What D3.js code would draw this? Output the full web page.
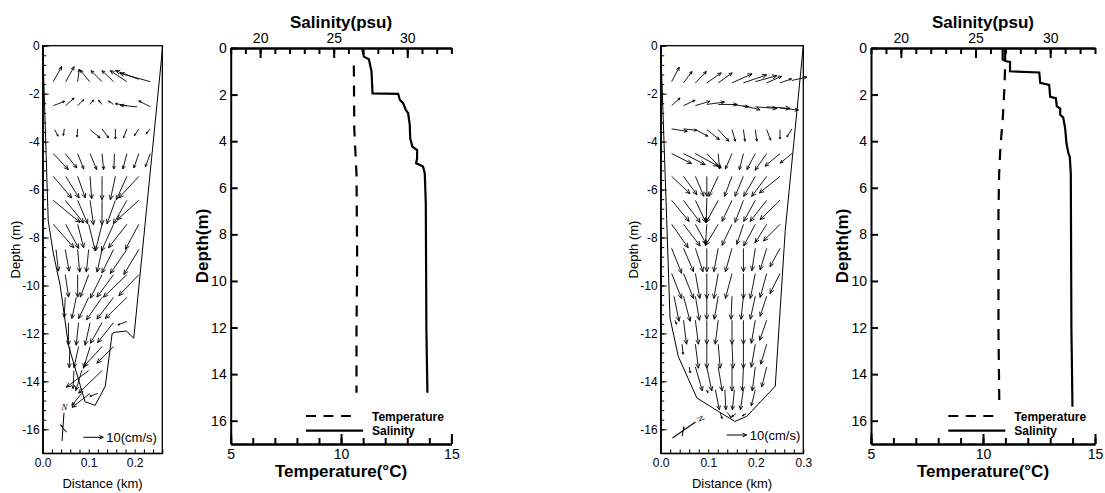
<!DOCTYPE html>
<html>
<head>
<meta charset="utf-8">
<script src="https://cdn.jsdelivr.net/npm/d3@7"></script>
<style>
  body { margin: 0; background: #fff; }
  svg { font-family: "Liberation Sans", Arial, sans-serif; }
</style>
</head>
<body>
<script>
const W = 1105, H = 493;

// ---- cross-section outlines: [distance km, depth m]
const leftSection = [[0,0],[0.012,-7.3],[0.023,-8.65],[0.038,-10.0],[0.056,-12.5],[0.092,-14.85],[0.114,-15.0],[0.136,-14.2],[0.151,-12.0],[0.158,-11.95],[0.182,-11.9],[0.198,-12.2],[0.261,0]];
const rightSection = [[0,0],[0.0126,-7.26],[0.0196,-11.36],[0.037,-12.96],[0.076,-14.69],[0.121,-15.25],[0.156,-15.67],[0.181,-15.46],[0.241,-14.2],[0.262,-7.7],[0.3,0]];

// ---- velocity vectors: [distance km, depth m, u cm/s, v cm/s]
const leftArrows = [
  [0.023,-1.5,4.2,7.5],[0.050,-1.5,4.2,7.5],[0.076,-1.5,0.8,6.2],[0.102,-1.5,-4.7,5.8],[0.129,-1.5,-5.5,5.5],[0.154,-1.5,-5.8,5.5],[0.183,-1.5,-8.3,5.5],[0.209,-1.4,-11.7,4.3],[0.234,-1.5,-15.3,4.2],
  [0.023,-2.5,5.8,2.2],[0.050,-2.5,4.2,3.8],[0.076,-2.5,3,3],[0.102,-2.45,2,2.2],[0.129,-2.45,-1.7,2],[0.154,-2.45,-2.5,1.7],[0.183,-2.5,-5.8,1],[0.205,-2.55,-8.3,0.8],[0.234,-2.55,-5.8,3],
  [0.026,-3.5,1.7,-3.3],[0.047,-3.47,-0.5,-3.3],[0.076,-3.47,-0.3,-4],[0.103,-3.5,5,-4.2],[0.129,-3.47,3.3,-4.5],[0.158,-3.47,0,-5],[0.183,-3.47,-1.7,-4.5],[0.209,-3.47,-2.2,-3.3],[0.234,-3.47,-2,-2.3],
  [0.023,-4.5,7.5,-8],[0.049,-4.5,5.8,-7.2],[0.076,-4.5,3,-7.7],[0.103,-4.5,3.3,-8],[0.129,-4.5,0.8,-8],[0.156,-4.5,-0.3,-7.7],[0.183,-4.5,-2,-7.7],[0.209,-4.5,-2.5,-7.2],[0.234,-4.5,-2.5,-6.7],
  [0.023,-5.45,9.2,-10.8],[0.050,-5.45,6.7,-10.8],[0.076,-5.45,3.8,-10.8],[0.103,-5.45,0.8,-11.3],[0.129,-5.45,0,-11.7],[0.158,-5.45,-2.5,-11.7],[0.183,-5.45,-5.3,-11.7],[0.209,-5.45,-10,-10.8],
  [0.023,-6.45,13.3,-11],[0.049,-6.45,9.2,-11.3],[0.076,-6.45,5,-11.7],[0.103,-6.45,1.7,-12.2],[0.129,-6.45,0,-12.2],[0.158,-6.45,-4.2,-11.7],[0.183,-6.45,-6.7,-11.7],[0.209,-6.45,-10.8,-9.7],
  [0.023,-7.45,10.3,-11.7],[0.050,-7.45,6.5,-12],[0.076,-7.45,3,-11.7],[0.100,-7.45,3.3,-13.3],[0.129,-7.45,-3.3,-13.3],[0.154,-7.45,-6,-13.3],[0.183,-7.45,-9.2,-11.7],[0.209,-7.45,-6.7,-12.5],
  [0.029,-8.5,1.2,-10.8],[0.049,-8.5,2,-10.8],[0.076,-8.5,1,-11.3],[0.100,-8.5,-1.2,-11.3],[0.129,-8.5,-2.5,-11.3],[0.154,-8.5,-5.8,-11.7],[0.183,-8.5,-8.3,-12],[0.209,-8.5,-7.5,-12.5],
  [0.049,-9.55,1.7,-11.2],[0.076,-9.55,0,-11.2],[0.100,-9.55,-4.2,-11.2],[0.129,-9.55,-5.8,-11.7],[0.154,-9.55,-8.3,-11.2],[0.183,-9.55,-11.7,-11.2],[0.209,-9.55,-10,-10.5],
  [0.049,-10.5,-0.5,-10],[0.073,-10.5,-2.2,-10.5],[0.100,-10.5,-5,-10.5],[0.129,-10.5,-7.8,-11.2],[0.154,-10.5,-8.3,-10.8],[0.183,-10.5,-10.8,-10.5],
  [0.056,-11.55,0,-11.3],[0.078,-11.55,-1.2,-11.3],[0.103,-11.55,-2.5,-11.3],[0.129,-11.55,-5.8,-10.3],[0.154,-11.55,-8,-10],[0.183,-11.5,-4.5,-1.7],
  [0.059,-12.55,-0.3,-10.5],[0.078,-12.55,-2.3,-10.5],[0.103,-12.55,-3.3,-10.8],[0.129,-12.55,-9.2,-10],[0.154,-12.55,-8.3,-8.3],
  [0.068,-13.55,-0.5,-9],[0.085,-13.55,-3,-10],[0.100,-13.55,-11.2,-8.3],[0.129,-13.55,-11.7,-11.3],
  [0.085,-14.5,-5,-6],[0.103,-14.5,-9,-7],[0.120,-14.5,-4,-1.5]
];
const rightArrows = [
  [0.023,-1.5,3.8,7.2],[0.048,-1.55,4.2,5.7],[0.073,-1.55,5.5,5.7],[0.097,-1.55,7.2,5],[0.121,-1.55,7,5],[0.150,-1.55,10,4.5],[0.174,-1.55,11.7,4],[0.199,-1.5,10.8,3],[0.223,-1.55,7.5,3.3],[0.251,-1.55,5.8,2],[0.276,-1.45,7.5,1.7],
  [0.023,-2.5,4.2,3.8],[0.048,-2.5,5.8,2.7],[0.073,-2.5,7.2,2.2],[0.097,-2.45,8.8,1.2],[0.121,-2.45,9.5,0],[0.150,-2.45,8.3,-1.2],[0.174,-2.5,8.3,-2],[0.199,-2.55,10.8,-0.8],[0.223,-2.55,11.7,-0.8],[0.251,-2.6,9.2,-1],
  [0.023,-3.47,7.8,-1.2],[0.048,-3.47,6.7,-0.7],[0.073,-3.5,6.3,-3.3],[0.097,-3.5,6.3,-5],[0.121,-3.5,5.3,-5.8],[0.150,-3.5,1.7,-5.8],[0.174,-3.5,0.8,-5.8],[0.199,-3.5,0.8,-5.8],[0.223,-3.5,2,-5.3],[0.251,-3.5,0,-4.7],[0.276,-3.47,-2.5,-4],
  [0.023,-4.5,10,-5],[0.048,-4.5,10.8,-5.5],[0.073,-4.5,11.3,-6.3],[0.097,-4.5,7.2,-7.2],[0.121,-4.5,0.7,-7.7],[0.150,-4.5,-3.3,-7.7],[0.174,-4.5,-2,-8],[0.199,-4.5,-4.2,-8],[0.223,-4.5,-5.8,-8.3],[0.251,-4.5,-7.5,-6.3],[0.276,-4.5,-5.8,-4.7],
  [0.023,-5.45,9.2,-8.7],[0.048,-5.45,6.7,-9.2],[0.073,-5.45,4.2,-10],[0.097,-5.45,0,-10],[0.121,-5.45,-4.7,-10],[0.150,-5.45,-3.8,-10],[0.174,-5.45,-4.2,-10],[0.199,-5.45,-5.8,-10],[0.223,-5.45,-7.5,-10],[0.251,-5.45,-10.3,-8.3],
  [0.023,-6.45,8.8,-10.5],[0.048,-6.45,8.3,-11],[0.073,-6.45,5.2,-11],[0.097,-6.35,-0.3,-12.2],[0.121,-6.45,-6,-11],[0.150,-6.45,-5,-10.5],[0.174,-6.45,-4.2,-11],[0.199,-6.45,-5.8,-10.5],[0.223,-6.45,-8.3,-10.5],[0.251,-6.45,-10,-9.7],
  [0.023,-7.45,8.3,-11.7],[0.048,-7.45,8.3,-10.8],[0.073,-7.45,5.5,-10],[0.097,-7.45,-0.7,-10.5],[0.121,-7.45,-6.3,-10.5],[0.150,-7.45,-5,-10.5],[0.174,-7.45,-3.3,-10],[0.199,-7.45,-5.8,-10.8],[0.223,-7.45,-5.8,-9.2],[0.251,-7.45,-8.3,-8.3],
  [0.023,-8.45,5,-12.5],[0.048,-8.45,5,-11.7],[0.073,-8.45,3.8,-11.7],[0.097,-8.45,0,-11.7],[0.121,-8.45,-2.2,-11.7],[0.150,-8.45,-3.3,-11.7],[0.174,-8.45,0,-11.7],[0.199,-8.45,-1.7,-11.2],[0.223,-8.45,-3.3,-10.8],[0.251,-8.45,-5,-9.2],
  [0.023,-9.5,5,-12.5],[0.048,-9.5,5,-12.5],[0.073,-9.5,2.2,-12.5],[0.097,-9.5,0,-12.5],[0.121,-9.5,-2.2,-12.5],[0.150,-9.5,-3.3,-12.5],[0.174,-9.5,0,-12.5],[0.199,-9.5,-2.5,-12.5],[0.223,-9.5,-3.3,-12],[0.251,-9.5,-5,-10],
  [0.028,-10.45,2.5,-12.5],[0.048,-10.45,3.3,-12.5],[0.073,-10.45,2,-12],[0.097,-10.45,0,-11.5],[0.121,-10.45,-2,-11.5],[0.150,-10.45,-0.5,-11.5],[0.174,-10.45,-1.2,-11.5],[0.199,-10.45,-2.5,-11.5],[0.223,-10.45,-3.3,-10],
  [0.030,-11.45,0.8,-2],[0.048,-11.45,1.5,-12],[0.073,-11.45,1.5,-12],[0.097,-11.45,0,-12],[0.121,-11.45,-1.5,-12],[0.150,-11.45,0,-12],[0.174,-11.45,0,-12],[0.199,-11.45,-2,-11.5],[0.223,-11.45,-3.5,-10],
  [0.045,-12.45,0.5,-5],[0.073,-12.45,1.5,-12],[0.097,-12.45,0,-12],[0.121,-12.45,1,-12],[0.150,-12.45,0.5,-12],[0.174,-12.45,0,-12],[0.199,-12.45,-2,-11.5],[0.223,-12.45,-3,-10],
  [0.060,-13.4,0.5,-3],[0.073,-13.4,3.5,-12],[0.097,-13.4,2.5,-12],[0.121,-13.4,2,-12],[0.150,-13.4,0,-12],[0.174,-13.4,-0.5,-12],[0.199,-13.4,-1.5,-12],[0.223,-13.4,-2.5,-10],
  [0.097,-14.35,0.5,-1.5],[0.115,-14.35,2,-10],[0.135,-14.35,0.5,-10],[0.155,-14.35,-1,-10],[0.174,-14.35,-1.5,-10],[0.199,-14.35,-2,-8],
  [0.125,-15.3,1,-3],[0.140,-15.3,2,-2.5],[0.158,-15.35,-2,-1.5],[0.180,-15.35,-2,-1]
];

// ---- vertical profiles: [depth m, value]
const leftSalinity = [[0,26.93],[0.37,27.05],[0.48,27.39],[1.0,27.57],[1.95,27.64],[1.97,29.38],[2.23,29.5],[2.37,29.72],[2.66,29.9],[2.8,30.06],[3.3,30.17],[3.88,30.2],[4.24,30.35],[4.38,30.67],[4.73,30.67],[4.95,30.6],[5.0,30.8],[5.09,31.07],[5.38,31.19],[6.67,31.26],[12.1,31.3],[14.8,31.37]];
const leftTemperature = [[0.75,10.58],[3.5,10.6],[5.4,10.7],[9.1,10.73],[12.1,10.7],[14.8,10.7]];
const rightSalinity = [[0,26.82],[0.5,26.82],[0.57,27.05],[0.6,27.31],[1.0,27.31],[1.05,29.27],[1.5,29.33],[1.58,29.93],[2.1,30.0],[2.15,30.38],[2.5,30.44],[2.6,30.67],[2.87,30.67],[2.98,30.87],[3.45,31.0],[4.09,31.09],[4.52,31.22],[4.66,31.31],[5.38,31.38],[12.1,31.42],[13.4,31.45],[15.4,31.49]];
const rightTemperature = [[0.05,10.99],[0.65,10.99],[1.65,10.96],[3.08,10.88],[4.2,10.78],[5.4,10.72],[7.1,10.69],[12.1,10.69],[15.4,10.73]];

const depthTicks = [0, 2, 4, 6, 8, 10, 12, 14, 16];
const salinityTicks = [20, 25, 30];
const temperatureTicks = [5, 10, 15];
const sectionDepthTicks = [0, -2, -4, -6, -8, -10, -12, -14, -16];

const svg = d3.select("body").append("svg").attr("width", W).attr("height", H);

// 10 cm/s -> 20 px
const velPx = d3.scaleLinear().domain([0, 10]).range([0, 20]);

function arrowPath(x0, y0, x1, y1) {
  const len = Math.hypot(x1 - x0, y1 - y0);
  const head = Math.max(2, Math.min(5, len * 0.22));
  const a = Math.atan2(y1 - y0, x1 - x0);
  const ax = x1 - head * Math.cos(a - 0.42), ay = y1 - head * Math.sin(a - 0.42);
  const bx = x1 - head * Math.cos(a + 0.42), by = y1 - head * Math.sin(a + 0.42);
  return `M${x0},${y0}L${x1},${y1}M${ax},${ay}L${x1},${y1}L${bx},${by}`;
}

function styleAxis(sel, w) {
  sel.select(".domain").attr("stroke", "#000").attr("stroke-width", w);
  sel.selectAll(".tick line").attr("stroke", "#000").attr("stroke-width", w);
  sel.selectAll("text").attr("fill", "#000");
}

function drawSection(cfg) {
  const g = svg.append("g");
  const x = d3.scaleLinear().domain([0, cfg.xMax]).range([cfg.left, cfg.right]);
  const y = d3.scaleLinear().domain([0, -17]).range([cfg.top, cfg.bottom]);

  g.append("path").datum(cfg.outline)
    .attr("d", d3.line().x(d => x(d[0])).y(d => y(d[1])))
    .attr("fill", "none").attr("stroke", "#000").attr("stroke-width", 1);

  g.selectAll("path.arrow").data(cfg.arrows).join("path")
    .attr("class", "arrow")
    .attr("d", d => {
      const x0 = x(d[0]), y0 = y(d[1]);
      return arrowPath(x0, y0, x0 + velPx(d[2]), y0 - velPx(d[3]));
    })
    .attr("fill", "none").attr("stroke", "#000").attr("stroke-width", 0.9);

  g.append("rect")
    .attr("x", cfg.left).attr("y", cfg.top)
    .attr("width", cfg.right - cfg.left).attr("height", cfg.bottom - cfg.top)
    .attr("fill", "none").attr("stroke", "#000").attr("stroke-width", 1.3);

  // y axis
  const yMinor = g.append("g").attr("transform", `translate(${cfg.left},0)`)
    .call(d3.axisLeft(y).tickValues(d3.range(0, 41).map(i => -i * 0.4).filter(v => v >= -17))
      .tickSize(-3.5).tickSizeOuter(0).tickFormat(""));
  styleAxis(yMinor, 1);
  const yMajor = g.append("g").attr("transform", `translate(${cfg.left},0)`)
    .call(d3.axisLeft(y).tickValues(sectionDepthTicks).tickSize(-6).tickSizeOuter(0).tickPadding(3)
      .tickFormat(d => d === 0 ? "0" : "-" + Math.abs(d)));
  yMajor.selectAll("text").attr("font-size", 12).attr("font-family", "Liberation Sans, Arial, sans-serif");
  styleAxis(yMajor, 1);

  // x axis
  const nX = Math.round(cfg.xMax / 0.02);
  const xMinor = g.append("g").attr("transform", `translate(0,${cfg.bottom})`)
    .call(d3.axisBottom(x).tickValues(d3.range(0, nX + 1).map(i => i * 0.02))
      .tickSize(-4).tickSizeOuter(0).tickPadding(5)
      .tickFormat(d => Math.abs(d * 10 - Math.round(d * 10)) < 1e-6 ? d3.format(".1f")(d) : ""));
  xMinor.selectAll("text").attr("font-size", 12).attr("font-family", "Liberation Sans, Arial, sans-serif");
  styleAxis(xMinor, 1);

  g.append("text")
    .attr("transform", `translate(${cfg.left - 23},${(cfg.top + cfg.bottom) / 2}) rotate(-90)`)
    .attr("text-anchor", "middle").attr("font-size", 13).text("Depth (m)");
  g.append("text")
    .attr("x", (cfg.left + cfg.right) / 2).attr("y", 488)
    .attr("text-anchor", "middle").attr("font-size", 13).text("Distance (km)");

  // reference vector
  const rx = cfg.refX, ry = cfg.refY;
  g.append("path").attr("d", arrowPath(rx, ry, rx + velPx(10), ry))
    .attr("fill", "none").attr("stroke", "#000").attr("stroke-width", 1);
  g.append("text").attr("x", rx + velPx(10) + 3).attr("y", ry + 4.5)
    .attr("font-size", 13).text("10(cm/s)");

  // north indicator
  const n = g.append("g").attr("transform", `translate(${cfg.northX},${cfg.northY}) rotate(${cfg.northRot})`);
  n.append("path").attr("d", "M0,14 L0,-14 M0,0 L-3,-2 L4,5")
    .attr("fill", "none").attr("stroke", "#000").attr("stroke-width", 1);
  n.append("text").attr("x", 0).attr("y", -17).attr("text-anchor", "middle").attr("fill", "#000")
    .attr("font-size", 9).attr("font-style", "italic").attr("font-family", "Liberation Serif, serif").text("N");
}

function drawProfile(cfg) {
  const g = svg.append("g");
  const t = d3.scaleLinear().domain([5, 15]).range([cfg.left, cfg.right]);
  const s = d3.scaleLinear().domain([18, 33]).range([cfg.left, cfg.right]);
  const d = d3.scaleLinear().domain([0, 17]).range([cfg.top, cfg.bottom]);

  g.append("path").datum(cfg.temperature)
    .attr("d", d3.line().x(p => t(p[1])).y(p => d(p[0])))
    .attr("fill", "none").attr("stroke", "#000").attr("stroke-width", 2.2)
    .attr("stroke-dasharray", "11,9");
  g.append("path").datum(cfg.salinity)
    .attr("d", d3.line().x(p => s(p[1])).y(p => d(p[0])))
    .attr("fill", "none").attr("stroke", "#000").attr("stroke-width", 2.2);

  // top (salinity) axis
  const sMinor = g.append("g").attr("transform", `translate(0,${cfg.top})`)
    .call(d3.axisTop(s).tickValues(d3.range(18, 34)).tickSize(-6).tickSizeOuter(0).tickFormat(""));
  styleAxis(sMinor, 2);
  const sMajor = g.append("g").attr("transform", `translate(0,${cfg.top})`)
    .call(d3.axisTop(s).tickValues(salinityTicks).tickSize(-10).tickSizeOuter(0).tickPadding(5));
  sMajor.selectAll("text").attr("font-size", 14).attr("font-family", "Liberation Sans, Arial, sans-serif");
  styleAxis(sMajor, 2);

  // bottom (temperature) axis
  const tMinor = g.append("g").attr("transform", `translate(0,${cfg.bottom})`)
    .call(d3.axisBottom(t).tickValues(d3.range(5, 16)).tickSize(-6).tickSizeOuter(0).tickFormat(""));
  styleAxis(tMinor, 2);
  const tMajor = g.append("g").attr("transform", `translate(0,${cfg.bottom})`)
    .call(d3.axisBottom(t).tickValues(temperatureTicks).tickSize(-10).tickSizeOuter(0).tickPadding(5));
  tMajor.selectAll("text").attr("font-size", 14).attr("font-family", "Liberation Sans, Arial, sans-serif");
  styleAxis(tMajor, 2);

  // depth axis
  const dAxis = g.append("g").attr("transform", `translate(${cfg.left},0)`)
    .call(d3.axisLeft(d).tickValues(depthTicks).tickSize(-7).tickSizeOuter(0).tickPadding(4));
  dAxis.selectAll("text").attr("font-size", 14).attr("font-family", "Liberation Sans, Arial, sans-serif");
  styleAxis(dAxis, 2);

  g.append("text").attr("x", (cfg.left + cfg.right) / 2).attr("y", 28)
    .attr("text-anchor", "middle").attr("font-size", 17).attr("font-weight", "bold").text("Salinity(psu)");
  g.append("text").attr("x", (cfg.left + cfg.right) / 2).attr("y", 477)
    .attr("text-anchor", "middle").attr("font-size", 17).attr("font-weight", "bold").text("Temperature(\u00b0C)");
  g.append("text")
    .attr("transform", `translate(${cfg.left - 23},${(cfg.top + cfg.bottom) / 2}) rotate(-90)`)
    .attr("text-anchor", "middle").attr("font-size", 17).attr("font-weight", "bold").text("Depth(m)");

  // legend
  const lx = cfg.left + cfg.legendDx;
  g.append("line").attr("x1", lx).attr("x2", lx + 50).attr("y1", 416).attr("y2", 416)
    .attr("stroke", "#000").attr("stroke-width", 2.2).attr("stroke-dasharray", "10,7.5");
  g.append("line").attr("x1", lx).attr("x2", lx + 57).attr("y1", 430.7).attr("y2", 430.7)
    .attr("stroke", "#000").attr("stroke-width", 2.2);
  g.append("text").attr("x", lx + 66).attr("y", 420.5).attr("font-size", 12).attr("font-weight", "bold").text("Temperature");
  g.append("text").attr("x", lx + 66).attr("y", 435).attr("font-size", 12).attr("font-weight", "bold").text("Salinity");
}

drawSection({left: 42.7, right: 162.3, top: 45.7, bottom: 453.3, xMax: 0.26,
  outline: leftSection, arrows: leftArrows, refX: 83.3, refY: 437.3,
  northX: 63, northY: 427, northRot: 4});
drawProfile({left: 230.7, right: 451.4, top: 48, bottom: 444,
  salinity: leftSalinity, temperature: leftTemperature, legendDx: 75.3});
drawSection({left: 660.7, right: 803.3, top: 45.7, bottom: 453.3, xMax: 0.3,
  outline: rightSection, arrows: rightArrows, refX: 726.7, refY: 435,
  northX: 684, northY: 430, northRot: 55});
drawProfile({left: 871, right: 1095, top: 48, bottom: 444,
  salinity: rightSalinity, temperature: rightTemperature, legendDx: 77.3});
</script>
</body>
</html>
